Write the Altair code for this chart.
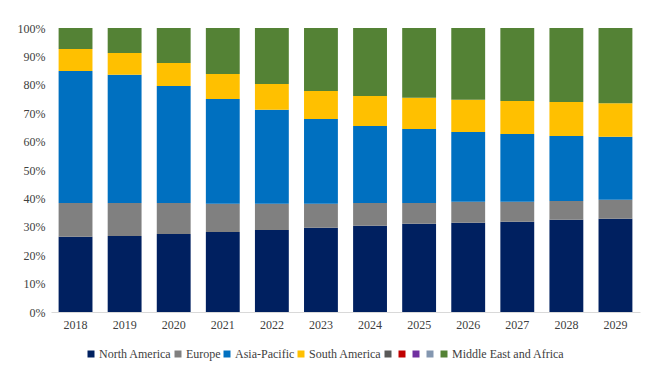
import altair as alt
import pandas as pd

years = ["2018", "2019", "2020", "2021", "2022", "2023", "2024", "2025", "2026", "2027", "2028", "2029"]
series = ["North America", "Europe", "Asia-Pacific", "South America", " ", "  ", "   ", "    ", "Middle East and Africa"]
colors = ["#002060", "#808080", "#0070C0", "#FFC000", "#595959", "#C00000", "#7030A0", "#8497B0", "#548235"]

north_america = [26.5, 26.8, 27.5, 28.2, 28.9, 29.7, 30.4, 31.1, 31.4, 31.8, 32.5, 32.8]
europe = [11.9, 11.6, 10.9, 9.9, 9.2, 8.4, 8.0, 7.3, 7.4, 7.0, 6.6, 6.7]
asia_pacific = [46.5, 45.1, 41.2, 36.9, 33.1, 29.9, 27.1, 26.0, 24.6, 23.9, 22.9, 22.2]
south_america = [7.7, 7.7, 8.1, 8.8, 9.1, 9.8, 10.6, 11.0, 11.3, 11.6, 11.9, 11.8]
empty = [0.0] * 12
mea = [7.4, 8.8, 12.3, 16.2, 19.7, 22.2, 23.9, 24.6, 25.3, 25.7, 26.1, 26.5]

values = [north_america, europe, asia_pacific, south_america, empty, empty, empty, empty, mea]

rows = []
for si, (name, vals) in enumerate(zip(series, values)):
    for y, v in zip(years, vals):
        rows.append({"year": y, "region": name, "idx": si, "value": v})
df = pd.DataFrame(rows)

font = "Liberation Serif"

chart = alt.Chart(df).mark_bar().encode(
    x=alt.X("year:N", title=None, scale=alt.Scale(paddingInner=0.31, paddingOuter=0.155),
            axis=alt.Axis(labelAngle=0, ticks=False, domainColor="#D9D9D9", labelFont=font,
                          labelFontSize=12, labelColor="#404040", labelPadding=7)),
    y=alt.Y("value:Q", stack="normalize", title=None,
            scale=alt.Scale(domain=[0, 1]),
            axis=alt.Axis(format=".0%", values=[i / 10 for i in range(11)], grid=False, domain=False,
                          ticks=False, labelFont=font, labelFontSize=12, labelColor="#404040",
                          labelPadding=6)),
    color=alt.Color("region:N", scale=alt.Scale(domain=series, range=colors), sort=series,
                    legend=alt.Legend(title=None, orient="none", legendX=34, legendY=320,
                                      direction="horizontal",
                                      symbolType="square", symbolSize=49, symbolStrokeWidth=0,
                                      labelFont=font, labelFontSize=12, labelColor="#404040",
                                      columnPadding=0, symbolOffset=0, labelOffset=2,
                                      columns=9)),
    order=alt.Order("idx:Q", sort="ascending"),
).properties(
    width=589, height=284,
    autosize=alt.AutoSizeParams(type="none"),
    padding={"left": 43, "top": 20, "right": 15, "bottom": 50},
).configure_view(stroke=None)

chart.save("out.html", embed_options={"renderer": "svg", "actions": False})
